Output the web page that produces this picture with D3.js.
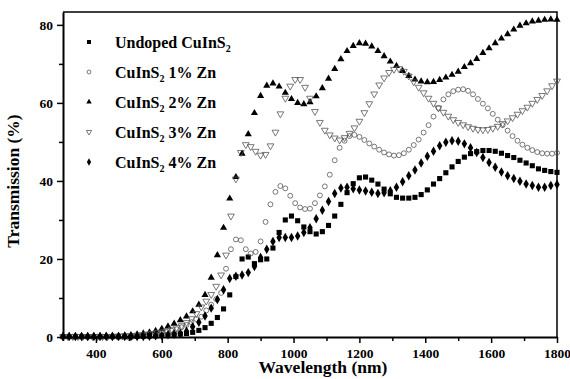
<!DOCTYPE html>
<html>
<head>
<meta charset="utf-8">
<script src="https://cdn.jsdelivr.net/npm/d3@7"></script>
<style>
	body { margin: 0; background: #fff; }
	text { font-family: "Liberation Serif", "Times New Roman", serif; font-weight: bold; fill: #000; }
</style>
</head>
<body>
<div id="chart"></div>
<script>
"use strict";

// wavelength grids (nm): two sampling steps in the source data
var waveA = d3.range(300, 1800.01, 18.75);
var waveB = d3.range(300, 1800.01, 15);

var undoped = [0.1,0.1,0.1,0.1,0.1,0.1,0.1,0.1,0.1,0.1,0.1,
	0.1,0.15,0.2,0.25,0.3,0.4,0.5,0.6,0.75,0.9,
	1.2,1.7,2.4,3.5,5,7.2,10.8,15.5,20,20.5,
	18.8,19.8,20,22.8,26.8,30,31,29.8,28.2,27,
	26.4,27,28.6,31,34,37,39.3,40.8,41,40.2,
	39.2,37.9,36.7,35.8,35.6,35.6,35.8,36.5,37.7,39.2,
	40.6,42.1,43.6,45,46.1,47,47.5,47.8,47.8,47.6,
	47.1,46.5,46,45.3,44.6,43.9,43.1,42.7,42.4,42.2];

var zn1 = [0.1,0.1,0.1,0.1,0.1,0.1,0.1,0.1,0.1,0.1,
	0.1,0.15,0.2,0.25,0.3,0.35,0.45,0.55,0.7,0.85,
	1.05,1.3,1.6,2,2.5,3.1,3.8,4.6,5.2,6.8,
	8.3,9.7,11.3,17.5,22.5,25,24.8,22.5,21.4,21.8,
	24.5,29.5,34,37.2,38.7,38.1,36.2,34.3,33.2,32.8,
	32.9,34.3,36.3,38.6,41.6,45.3,48.5,50.3,51.5,51.8,
	51.3,50.5,49.6,48.8,48,47.3,46.8,46.5,46.6,47.1,
	48,49.2,50.6,52.4,54.3,56.5,58.7,60.9,62.2,63,
	63.4,63.5,63.1,62.2,61,59.8,58.6,57.2,55.7,54.3,
	52.9,51.5,50.3,49.3,48.5,47.9,47.4,47.1,47,47,47.2];

var zn2 = [0.2,0.2,0.2,0.2,0.2,0.2,0.2,0.3,0.3,0.3,0.4,
	0.5,0.7,0.9,1.2,1.6,2.1,2.7,3.4,4.3,5.3,
	6.6,8.3,10.8,15.2,21,28,35.5,41,47,52,
	57.4,61.8,64.4,65,64.2,62.6,61,60,59.7,60.2,
	61.7,63.8,66.2,68.7,71.2,73.3,74.6,75.3,75.2,74.5,
	73.3,72,70.6,69.5,68.2,66.9,66,65.5,65.3,65.4,
	65.9,66.5,67.2,68,69.2,70.2,71.3,72.8,74,75.3,
	76.5,77.6,78.8,79.8,80.4,80.9,81.1,81.3,81.4,81.3];

var zn3 = [0.1,0.1,0.1,0.1,0.1,0.1,0.1,0.1,0.1,0.1,
	0.15,0.2,0.25,0.3,0.35,0.45,0.6,0.75,0.9,1.1,
	1.3,1.6,2,2.4,2.9,3.7,4.7,6,7.7,9.2,
	10.9,13,15.9,21,31,40.5,47.3,49.3,48.8,47.6,
	46.6,46.8,49,52.5,57.2,61.2,64.3,66,66,64,
	61.2,57.8,55,53,51.8,51,50.5,51.1,52.2,53.6,
	55.3,57.5,59.8,62.3,64.6,66.4,67.8,68.6,68.8,68.1,
	66.9,65.4,64,62.6,61.2,59.9,58.7,57.6,56.6,55.7,
	55,54.4,53.9,53.5,53.2,53.1,53.2,53.5,54,54.7,
	55.4,56.2,57.1,58,58.9,59.9,60.9,61.9,63.1,64.4,65.6];

var zn4 = [0.1,0.1,0.1,0.1,0.1,0.1,0.1,0.1,0.1,0.1,0.1,
	0.1,0.1,0.15,0.2,0.3,0.4,0.55,0.7,0.9,1.5,
	2.6,3.8,5.4,7.4,9.6,12.1,15,15.6,15.9,16.5,
	18.1,20.4,22.5,24.5,25.5,25.5,25.5,25.9,26.8,28,
	30.3,32.5,34.7,36.8,38.2,38.4,38,37.7,37.4,37.1,
	36.8,37,37.5,38.4,39.8,41.3,42.8,44.6,46.3,47.6,
	49,49.9,50.3,50.2,49.5,48.5,47.3,46,44.7,43.5,
	42.3,41.3,40.6,39.9,39.2,38.8,38.4,38.4,38.8,39.1];

var xTicks = [400, 600, 800, 1000, 1200, 1400, 1600, 1800];
var xMinor = [300, 500, 700, 900, 1100, 1300, 1500, 1700];
var yTicks = [0, 20, 40, 60, 80];
var yMinor = [10, 30, 50, 70];

var legendNames = ["Undoped CuInS", "CuInS", "CuInS", "CuInS", "CuInS"];
var legendTails = ["", " 1% Zn", " 2% Zn", " 3% Zn", " 4% Zn"];

//
// Setup Variables
//
var canvasWidth = 570, canvasHeight = 379;
var margin = { top: 12, right: 13, bottom: 42, left: 63 };
var width = canvasWidth - margin.left - margin.right;
var height = canvasHeight - margin.top - margin.bottom;

var x = d3.scaleLinear().domain([300, 1800]).range([0, width]);
var y = d3.scaleLinear().domain([0, 83.3]).range([height, 0]);

var series = [
	{ wave: waveA, values: undoped, type: d3.symbolSquare, size: 26, fill: "#000", stroke: "none", rot: 0, legSize: 16 },
	{ wave: waveB, values: zn1, type: d3.symbolCircle, size: 19, fill: "none", stroke: "#555", rot: 0, legSize: 12 },
	{ wave: waveA, values: zn2, type: d3.symbolTriangle, size: 22, fill: "#000", stroke: "none", rot: 0, legSize: 13 },
	{ wave: waveB, values: zn3, type: d3.symbolTriangle, size: 20, fill: "none", stroke: "#555", rot: 180, legSize: 12 },
	{ wave: waveA, values: zn4, type: d3.symbolDiamond, size: 26, fill: "#000", stroke: "none", rot: 0, legSize: 16 }
];

//
// Draw Canvas
//
var svg = d3.select("#chart")
	.append("svg")
		.attr("width", canvasWidth)
		.attr("height", canvasHeight)
	.append("g")
		.attr("transform", "translate(" + margin.left + "," + margin.top + ")");

// frame (top and right)
svg.append("path")
	.attr("d", "M0,0H" + width + "V" + height)
	.attr("fill", "none")
	.attr("stroke", "#000")
	.attr("stroke-width", 1.5);

//
// Draw Points
//
series.forEach(function(s) {
	var sym = d3.symbol().type(s.type).size(s.size);
	svg.append("g").selectAll("path")
		.data(s.values)
	  .enter().append("path")
		.attr("d", sym)
		.attr("transform", function(d, i) {
			return "translate(" + x(s.wave[i]) + "," + y(d) + ") rotate(" + s.rot + ")";
		})
		.attr("fill", s.fill)
		.attr("stroke", s.stroke)
		.attr("stroke-width", 0.8);
});

//
// Draw X-Axis
//
svg.append("g")
	.attr("transform", "translate(0," + height + ")")
	.call(d3.axisBottom(x).tickValues(xTicks).tickFormat(d3.format("d"))
		.tickSize(6).tickPadding(5).tickSizeOuter(0));
svg.append("g")
	.attr("transform", "translate(0," + height + ")")
	.call(d3.axisBottom(x).tickValues(xMinor).tickSize(4).tickFormat("").tickSizeOuter(0))
	.select(".domain").remove();

//
// Draw Y-Axis
//
svg.append("g")
	.call(d3.axisLeft(y).tickValues(yTicks).tickSize(6).tickPadding(4).tickSizeOuter(0));
svg.append("g")
	.call(d3.axisLeft(y).tickValues(yMinor).tickSize(4).tickFormat("").tickSizeOuter(0))
	.select(".domain").remove();

svg.selectAll(".domain").attr("stroke-width", 2);
svg.selectAll(".tick line").attr("stroke-width", 1.5);
svg.selectAll(".tick text")
	.style("font-family", "'Liberation Serif', 'Times New Roman', serif")
	.style("font-weight", "bold")
	.style("font-size", "13.5px");

// axis titles
svg.append("text")
	.attr("x", 260)
	.attr("y", height + 36)
	.attr("text-anchor", "middle")
	.style("font-size", "17.5px")
	.text("Wavelength (nm)");

svg.append("text")
	.attr("transform", "translate(-44," + 169 + ") rotate(-90)")
	.attr("text-anchor", "middle")
	.style("font-size", "17.5px")
	.text("Transmission (%)");

//
// Draw Legend
//
var legend = svg.selectAll(".legend")
	.data(series)
  .enter().append("g")
	.attr("class", "legend")
	.attr("transform", function(d, i) { return "translate(26," + (30 + i * 30) + ")"; });

legend.append("path")
	.attr("d", function(d) { return d3.symbol().type(d.type).size(d.legSize)(); })
	.attr("transform", function(d) { return "rotate(" + d.rot + ")"; })
	.attr("fill", function(d) { return d.fill; })
	.attr("stroke", function(d) { return d.stroke; })
	.attr("stroke-width", 0.8);

var label = legend.append("text")
	.attr("x", 26)
	.attr("y", 5.5)
	.style("font-size", "16px");
label.append("tspan").text(function(d, i) { return legendNames[i]; });
label.append("tspan").attr("dy", 4).style("font-size", "10px").text("2");
label.append("tspan").attr("dy", -4).text(function(d, i) { return legendTails[i]; });
</script>
</body>
</html>
